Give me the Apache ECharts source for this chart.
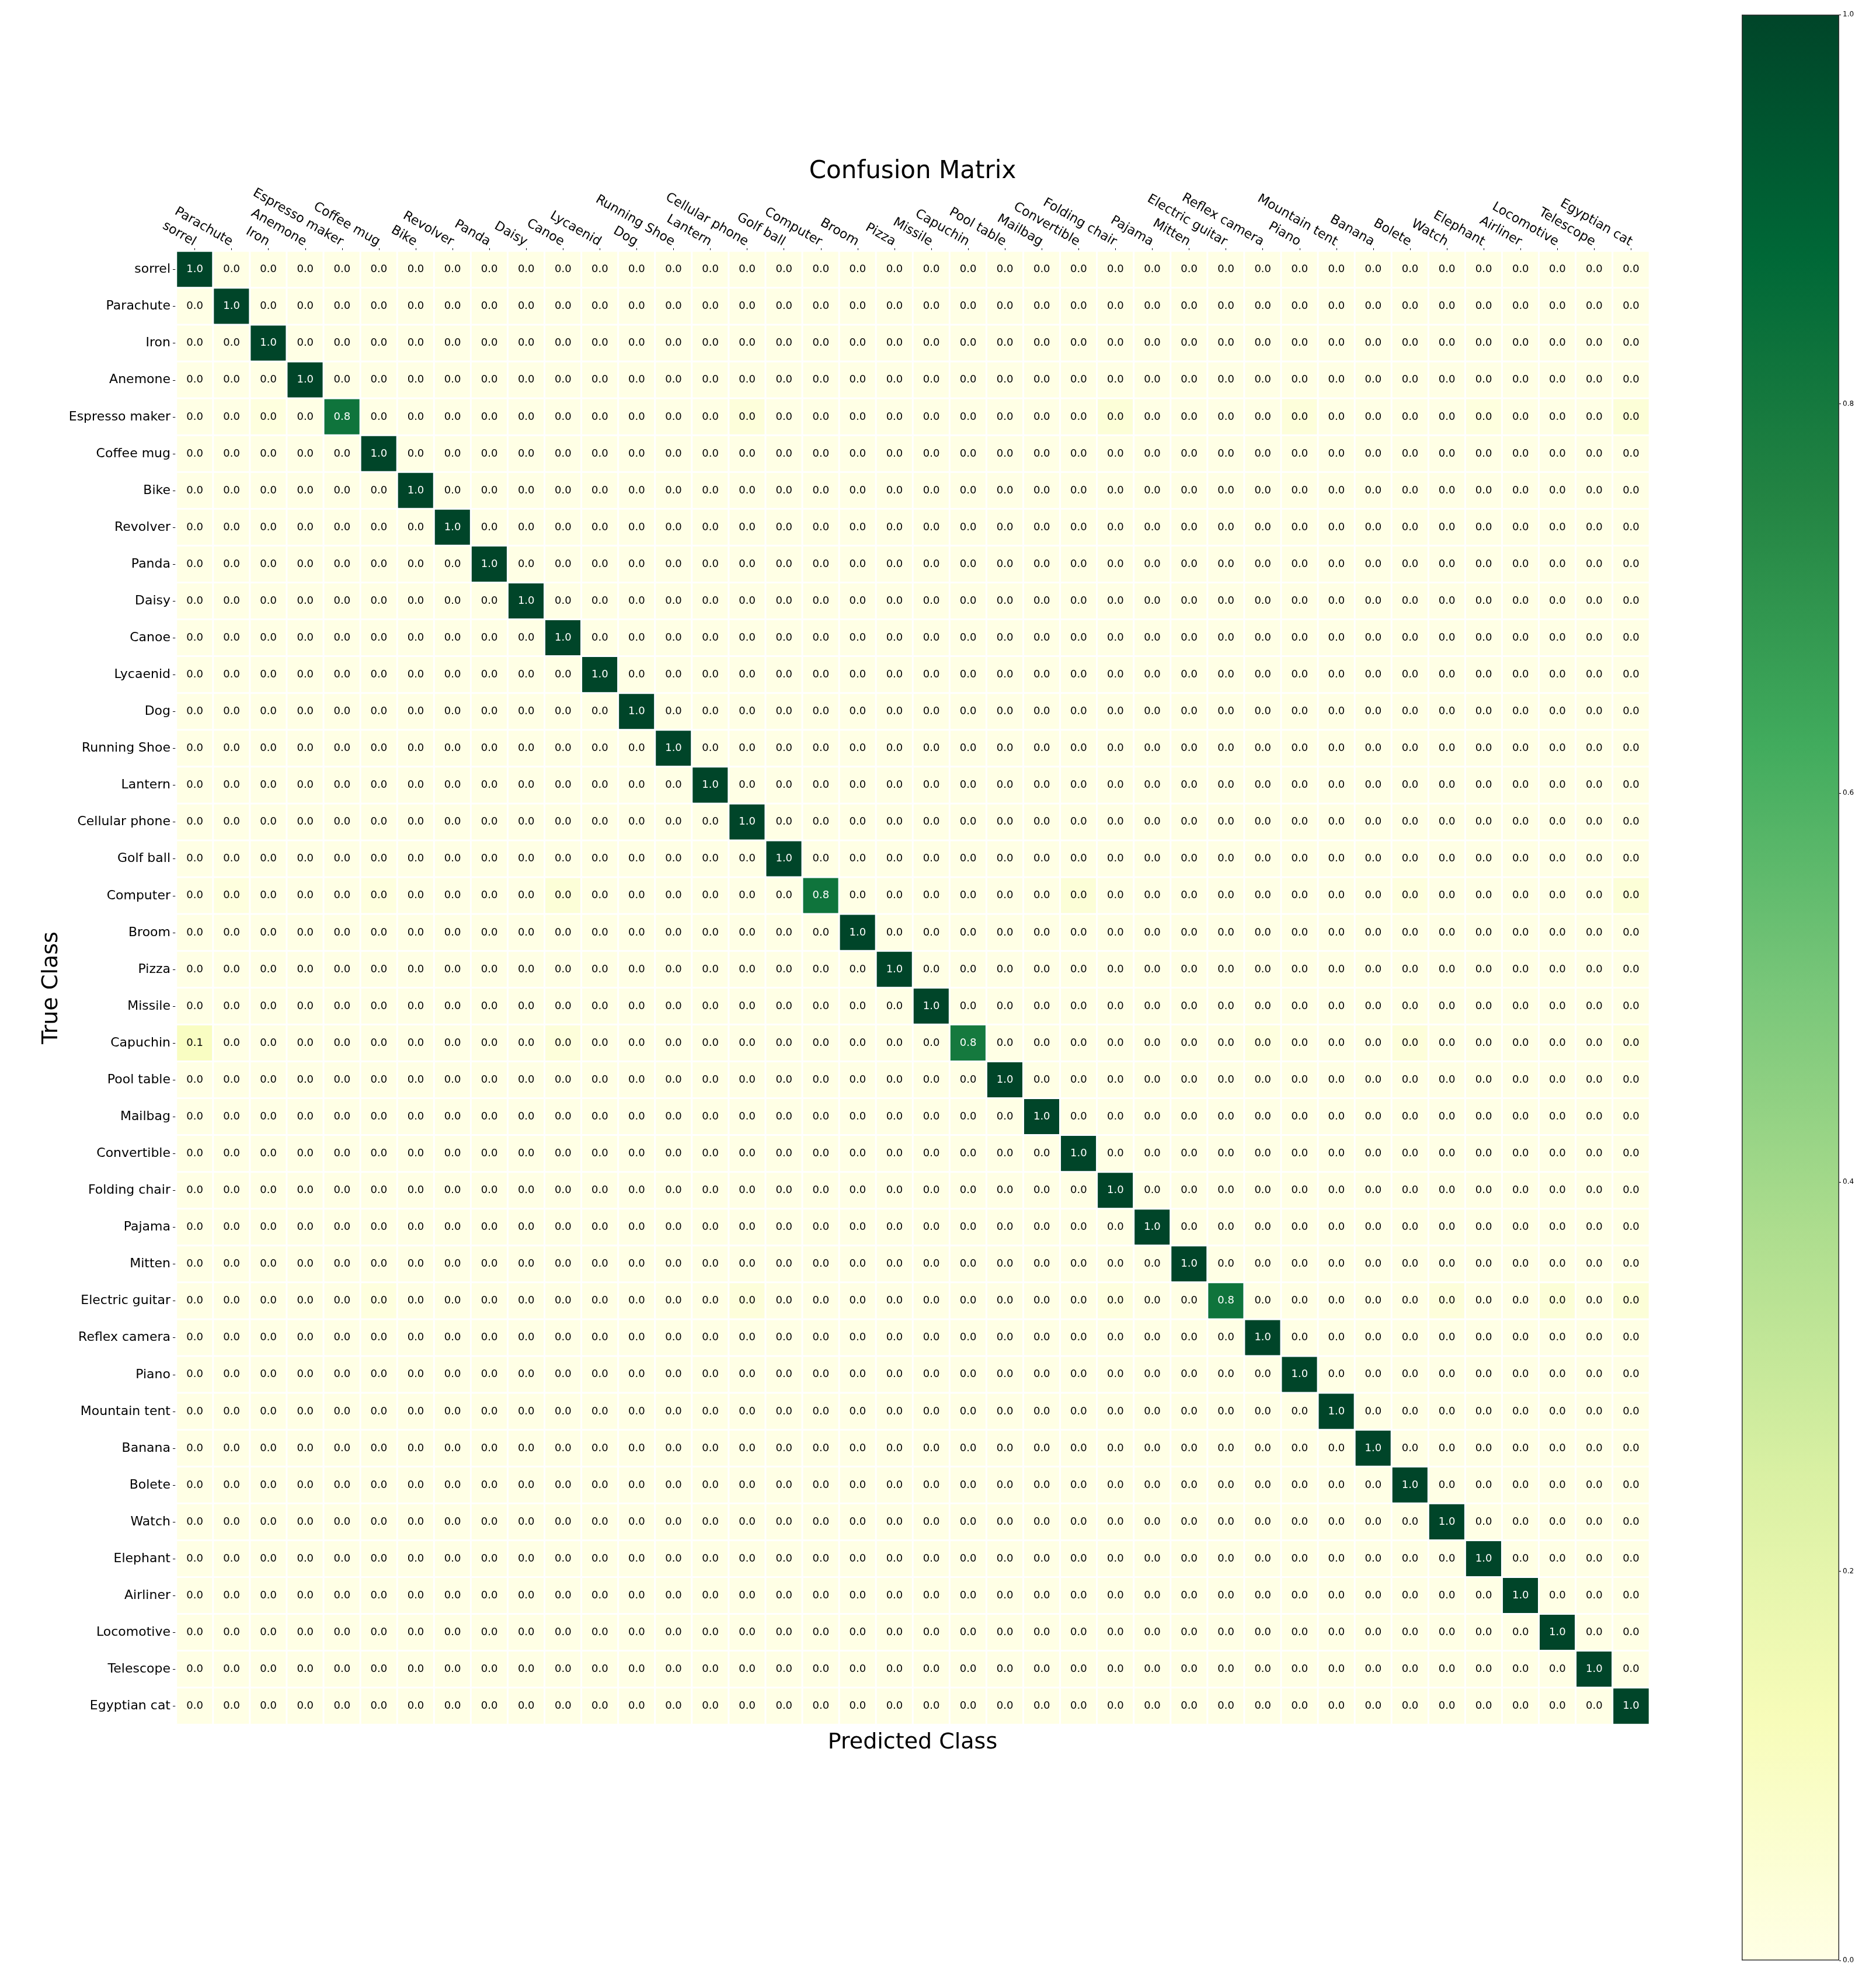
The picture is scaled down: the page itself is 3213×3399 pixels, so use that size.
<!DOCTYPE html>
<html>
<head>
<meta charset="utf-8">
<title>Confusion Matrix</title>
<script src="https://cdn.jsdelivr.net/npm/echarts@6/dist/echarts.min.js"></script>
<style>
  html,body{margin:0;padding:0;background:#fff;}
  #chart{width:3213px;height:3399px;}
</style>
</head>
<body>
<div id="chart"></div>
<script>
const FONT='DejaVu Sans';
const classes=['sorrel','Parachute','Iron','Anemone','Espresso maker','Coffee mug','Bike','Revolver','Panda','Daisy',
    'Canoe','Lycaenid','Dog','Running Shoe','Lantern','Cellular phone','Golf ball','Computer','Broom','Pizza',
    'Missile','Capuchin','Pool table','Mailbag','Convertible','Folding chair','Pajama','Mitten','Electric guitar','Reflex camera',
    'Piano','Mountain tent','Banana','Bolete','Watch','Elephant','Airliner','Locomotive','Telescope','Egyptian cat'];
// share of each class predicted correctly
const diagonal=[1,1,1,1,0.82,1,1,1,1,1,
    1,1,1,1,1,1,1,0.82,1,1,
    1,0.8,1,1,1,1,1,1,0.82,1,
    1,1,1,1,1,1,1,1,1,1];
// [true row, predicted col, share]
const confusions=[
    [4,39,0.04],[4,25,0.04],[4,15,0.03],[4,30,0.03],[4,2,0.02],[4,35,0.02],
    [17,39,0.04],[17,10,0.04],[17,24,0.04],[17,1,0.02],[17,5,0.02],[17,33,0.02],
    [21,0,0.1],[21,10,0.03],[21,33,0.03],[21,39,0.02],[21,29,0.02],
    [28,37,0.04],[28,39,0.04],[28,15,0.03],[28,34,0.03],[28,25,0.02],[28,5,0.02]
];
const ylgn=['#ffffe5','#f7fcb9','#d9f0a3','#addd8e','#78c679','#41ab5d','#238443','#006837','#004529'];
const cbarTicks=[0,0.2,0.4,0.6,0.8,1.0];

const n=classes.length;
const matrix=[];
for(let i=0;i<n;i++){
    matrix.push(new Array(n).fill(0));
    matrix[i][i]=diagonal[i];
}
confusions.forEach(c=>{matrix[c[0]][c[1]]=c[2];});

const cells=[];
for(let i=0;i<n;i++){
    for(let j=0;j<n;j++){
        const v=matrix[i][j];
        cells.push({value:[j,i,v],label:{color:v>0.5?'#ffffff':'#000000'}});
    }
}

const myChart=echarts.init(document.getElementById('chart'),null,{renderer:'canvas'});
const option={
    animation:false,
    backgroundColor:'#ffffff',
    textStyle:{fontFamily:FONT},
    title:[{
        text:'Confusion Matrix',
        left:1563,
        top:273,
        textAlign:'center',
        padding:0,
        textStyle:{fontFamily:FONT,fontSize:42,fontWeight:'normal',color:'#000'}
    },{
        text:'Predicted Class',
        left:1563,
        top:2965,
        textAlign:'center',
        padding:0,
        textStyle:{fontFamily:FONT,fontSize:38,fontWeight:'normal',color:'#000'}
    }],
    grid:[
        {left:302,top:430,width:2523,height:2523},
        {left:2983,top:25,width:167,height:3332}
    ],
    xAxis:[{
        type:'category',
        gridIndex:0,
        position:'top',
        data:classes,
        axisLine:{show:false},
        axisTick:{show:true,alignWithLabel:true,length:5,lineStyle:{color:'#000'}},
        axisLabel:{interval:0,rotate:30,align:'right',verticalAlign:'middle',margin:14,fontSize:22,fontFamily:FONT,color:'#000'},
        splitLine:{show:false}
    },{
        type:'category',
        gridIndex:1,
        data:[''],
        show:false
    }],
    yAxis:[{
        type:'category',
        gridIndex:0,
        inverse:true,
        data:classes,
        name:'True Class',
        nameLocation:'middle',
        nameRotate:90,
        nameGap:182,
        nameTextStyle:{fontFamily:FONT,fontSize:38,color:'#000'},
        axisLine:{show:false},
        axisTick:{show:true,alignWithLabel:true,length:6,lineStyle:{color:'#000'}},
        axisLabel:{interval:0,margin:10,fontSize:22,fontFamily:FONT,color:'#000'},
        splitLine:{show:false}
    },{
        type:'value',
        gridIndex:1,
        position:'right',
        min:cbarTicks[0],
        max:cbarTicks[cbarTicks.length-1],
        interval:0.2,
        axisLine:{show:false},
        axisTick:{show:true,length:3,lineStyle:{color:'#000'}},
        axisLabel:{margin:6,fontSize:12,fontFamily:FONT,color:'#000',formatter:v=>v.toFixed(1)},
        splitLine:{show:false}
    }],
    visualMap:{
        show:false,
        seriesIndex:0,
        dimension:2,
        min:0,
        max:1,
        inRange:{color:ylgn}
    },
    series:[{
        type:'heatmap',
        xAxisIndex:0,
        yAxisIndex:0,
        data:cells,
        itemStyle:{borderColor:'#ffffff',borderWidth:3},
        label:{
            show:true,
            fontSize:18,
            fontFamily:FONT,
            formatter:p=>p.value[2].toFixed(1)
        },
        emphasis:{disabled:true}
    },{
        type:'bar',
        xAxisIndex:1,
        yAxisIndex:1,
        data:[cbarTicks[cbarTicks.length-1]],
        barWidth:'100%',
        silent:true,
        itemStyle:{
            borderColor:'#333333',
            borderWidth:1.5,
            color:{
                type:'linear',x:0,y:0,x2:0,y2:1,
                colorStops:ylgn.slice().reverse().map((c,k)=>({offset:k/(ylgn.length-1),color:c}))
            }
        }
    }]
};
myChart.setOption(option);
</script>
</body>
</html>
